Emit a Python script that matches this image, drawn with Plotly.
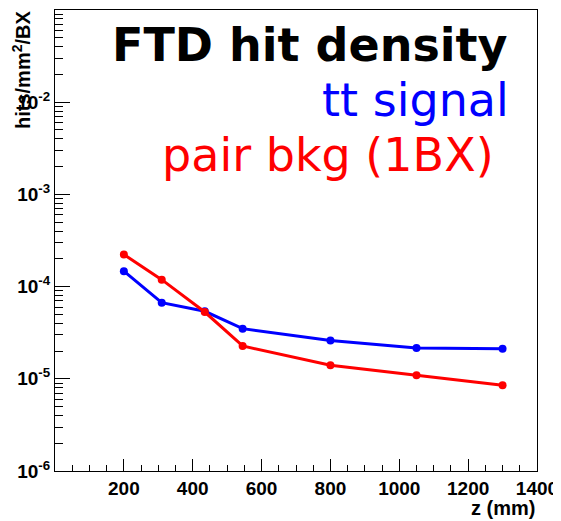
import plotly.graph_objects as go

z_mm = [200, 310, 435, 545, 800, 1050, 1300]
tt_signal = [1.47e-4, 6.7e-5, 5.4e-5, 3.5e-5, 2.6e-5, 2.16e-5, 2.12e-5]
pair_bkg = [2.23e-4, 1.19e-4, 5.3e-5, 2.27e-5, 1.40e-5, 1.09e-5, 8.5e-6]
x_ticks = [200, 400, 600, 800, 1000, 1200, 1400]
y_ticks = [1e-6, 1e-5, 1e-4, 1e-3, 1e-2]
y_ticktext = ["10<sup>-6</sup>", "10<sup>-5</sup>", "10<sup>-4</sup>", "10<sup>-3</sup>", "10<sup>-2</sup>"]

# page has an 8px body margin; figure is offset by (8, 8)
OFF = 8
W, H = 561 - OFF, 521 - OFF
L, R, T, B = 55 - OFF, 561 - 537, 10 - OFF, 521 - 471
pw, ph = W - L - R, H - T - B

def px(x):  # page pixel -> paper
    return (x - OFF - L) / pw

def py(y):
    return (H - B - (y - OFF)) / ph

fig = go.Figure()
fig.add_trace(go.Scatter(x=z_mm, y=tt_signal, mode="lines+markers",
                         line=dict(color="rgb(0,0,255)", width=3),
                         marker=dict(color="rgb(0,0,255)", size=8), name="tt signal"))
fig.add_trace(go.Scatter(x=z_mm, y=pair_bkg, mode="lines+markers",
                         line=dict(color="rgb(255,0,0)", width=3),
                         marker=dict(color="rgb(255,0,0)", size=8), name="pair bkg (1BX)"))

tickfont = dict(family="Liberation Sans", size=19, color="black", weight="bold")
fig.update_layout(
    width=W, height=H, margin=dict(l=L, r=R, t=T, b=B, pad=0, autoexpand=False),
    paper_bgcolor="white", plot_bgcolor="white", showlegend=False,
    xaxis=dict(range=[0, 1400], tickmode="array", tickvals=x_ticks, automargin=False,
               ticks="inside", ticklen=12, tickwidth=1, tickcolor="black", showgrid=False,
               zeroline=False, showline=True, linecolor="black", linewidth=1, mirror=True,
               tickfont=tickfont,
               minor=dict(dtick=50, tick0=0, ticks="inside", ticklen=6, tickwidth=1,
                          tickcolor="black", showgrid=False)),
    yaxis=dict(type="log", range=[-6, -1], tickmode="array", tickvals=y_ticks, ticktext=y_ticktext,
               automargin=False,
               ticks="inside", ticklen=15, tickwidth=1, tickcolor="black", showgrid=False,
               zeroline=False, showline=True, linecolor="black", linewidth=1, mirror=True,
               tickfont=tickfont,
               minor=dict(dtick="D1", ticks="inside", ticklen=8, tickwidth=1,
                          tickcolor="black", showgrid=False)),
)

ann = []
ann.append(dict(text="<b>FTD hit density</b>", x=px(110), y=py(45), xanchor="left", yanchor="middle",
                font=dict(family="DejaVu Sans", size=46, color="black")))
ann.append(dict(text="tt signal", x=px(320), y=py(100), xanchor="left", yanchor="middle",
                font=dict(family="DejaVu Sans", size=46, color="rgb(0,0,255)")))
ann.append(dict(text="pair bkg (1BX)", x=px(160), y=py(155), xanchor="left", yanchor="middle",
                font=dict(family="DejaVu Sans", size=46, color="rgb(255,0,0)")))
ann.append(dict(text="<b>hits/mm<sup>2</sup>/BX</b>", x=px(21), y=py(9), xanchor="center", yanchor="top",
                textangle=-90, font=dict(family="Liberation Sans", size=20, color="black")))
ann.append(dict(text="<b>z (mm)</b>", x=px(537), y=py(508), xanchor="right", yanchor="middle",
                font=dict(family="Liberation Sans", size=20, color="black")))
for a in ann:
    a.update(xref="paper", yref="paper", showarrow=False)
fig.update_layout(annotations=ann)

fig.write_html("out.html")
